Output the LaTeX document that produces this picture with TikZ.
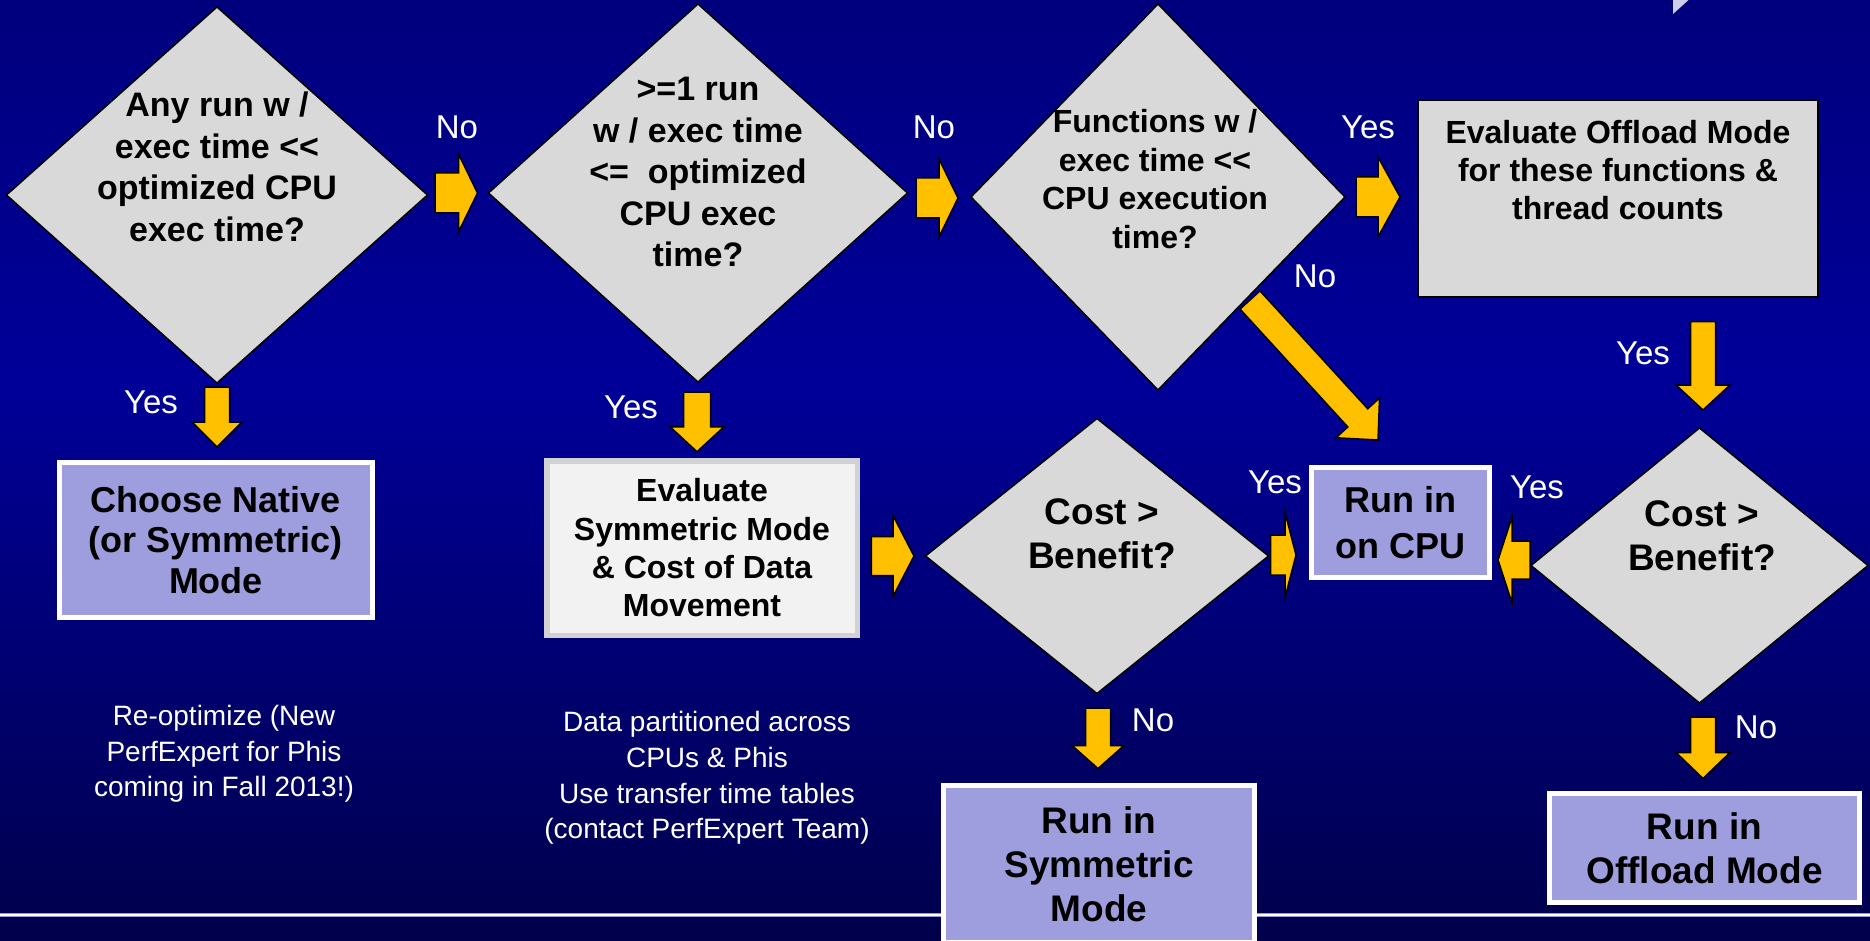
\documentclass[tikz,border=0pt]{standalone}
\usepackage{fontspec}
\newfontfamily\lsans{Liberation Sans}
\usetikzlibrary{shapes.geometric,calc}

\definecolor{bgtop}{RGB}{0,0,125}
\definecolor{bgmid}{RGB}{0,0,153}
\definecolor{bgbot}{RGB}{0,0,75}
\definecolor{qgray}{RGB}{217,217,217}
\definecolor{lav}{RGB}{158,158,222}
\definecolor{gold}{RGB}{255,192,0}
\definecolor{paper}{RGB}{242,242,242}
\definecolor{paperedge}{RGB}{210,210,210}
\definecolor{corner}{RGB}{205,205,235}
\definecolor{rulelav}{RGB}{150,150,220}

\tikzset{
  question/.style={diamond, draw=black, line width=1.5pt, fill=qgray,
    inner sep=0pt, outer sep=0pt},
  qtext/.style={align=center, inner sep=0pt,
    font=\lsans\bfseries\fontsize{34}{41.5}\selectfont},
  result/.style={rectangle, draw=white, line width=5pt, fill=lav,
    inner sep=0pt, outer sep=0pt, align=center,
    font=\lsans\bfseries\fontsize{37}{44}\selectfont},
  evalbox/.style={rectangle, draw=paperedge, line width=5.5pt, fill=paper,
    inner sep=0pt, outer sep=0pt, align=center,
    font=\lsans\bfseries\fontsize{32}{38.3}\selectfont},
  answer/.style={inner sep=0pt, text=white,
    font=\lsans\fontsize{33}{38}\selectfont},
  note/.style={inner sep=0pt, text=white, align=center,
    font=\lsans\fontsize{28}{35.7}\selectfont},
  blockarr/.style={fill=gold, draw=black, line width=1.5pt, line join=miter},
}

% block arrow: #1 tail, #2 tip, #3 half shaft width, #4 half head width, #5 head length
\newcommand\blockarrow[5]{%
  \coordinate (ba-neck) at ($(#2)!#5!(#1)$);
  \draw[blockarr]
    ($(#1)!#3!90:(#2)$) --
    ($(ba-neck)!#3!-90:(#1)$) --
    ($(ba-neck)!#4!-90:(#1)$) --
    (#2) --
    ($(ba-neck)!#4!90:(#1)$) --
    ($(ba-neck)!#3!90:(#1)$) --
    ($(#1)!#3!-90:(#2)$) -- cycle;
}

\begin{document}
\begin{tikzpicture}[x=1pt,y=-1pt]
\useasboundingbox (0,0) rectangle (1870,941);
\clip (0,0) rectangle (1870,941);

% background
\shade[top color=bgtop, bottom color=bgmid] (0,0) rectangle (1870,381);
\shade[top color=bgmid, bottom color=bgbot] (0,380) rectangle (1870,941);
\fill[corner] (1673,0) -- (1688.5,0) -- (1673,14) -- cycle;
\draw[rulelav, line width=3.5pt] (0,915) -- (1870,915);
\draw[white, line width=2pt] (0,915) -- (1870,915);

% decisions
\node[question, minimum width=421pt, minimum height=376pt] (d1) at (217,195) {};
\node[question, minimum width=419pt, minimum height=378pt] (d2) at (698,193) {};
\node[question, minimum width=374pt, minimum height=386pt] (d3) at (1158,197) {};
\node[question, minimum width=343pt, minimum height=275pt] (d4) at (1097,556) {};
\node[question, minimum width=337pt, minimum height=275pt] (d5) at (1699.5,565.5) {};

\node[qtext] (d1t) at (217,167) {Any run w /\\exec time <<\\optimized CPU\\exec time?};
\node[qtext] (d2t) at (698,172) {>=1 run\\w / exec time\\<=\ \ optimized\\CPU exec\\time?};
\node[qtext, font=\lsans\bfseries\fontsize{32}{38.7}\selectfont] (d3t) at (1155,179)
  {Functions w /\\exec time <<\\CPU execution\\time?};
\node[qtext, font=\lsans\bfseries\fontsize{37}{44}\selectfont] (d4t) at (1102,534)
  {Cost >\\Benefit?};
\node[qtext, font=\lsans\bfseries\fontsize{37}{44}\selectfont] (d5t) at (1702,535.5)
  {Cost >\\Benefit?};

% actions
\node[result, minimum width=313pt, minimum height=155pt,
  font=\lsans\bfseries\fontsize{36}{40.5}\selectfont] (choose) at (216,540)
  {Choose Native\\(or Symmetric)\\Mode};
\node[evalbox, minimum width=310.5pt, minimum height=174.5pt] (evalsym) at (702,548)
  {Evaluate\\Symmetric Mode\\\& Cost of Data\\Movement};
\node[rectangle, draw=black, line width=2pt, fill=qgray, inner sep=0pt, outer sep=0pt,
  minimum width=400pt, minimum height=197pt] (evaloff) at (1618,198.5) {};
\node[qtext, font=\lsans\bfseries\fontsize{32}{37.7}\selectfont] (evalofft) at (1618,170)
  {Evaluate Offload Mode\\for these functions \&\\thread counts};
\node[result, minimum width=178pt, minimum height=110pt,
  font=\lsans\bfseries\fontsize{36}{46}\selectfont] (cpu) at (1400.5,522.5)
  {Run in\\on CPU};
\node[result, minimum width=311pt, minimum height=157pt] (runsym) at (1099,864)
  {Run in\\Symmetric\\Mode};
\node[result, minimum width=310pt, minimum height=109pt] (runoff) at (1704.5,848)
  {Run in\\Offload Mode};

% notes
\node[note] (note1) at (224,754) {Re-optimize (New\\PerfExpert for Phis\\coming in Fall 2013!)};
\node[note] (note2) at (707,778) {Data partitioned across\\CPUs \& Phis\\Use transfer time tables\\(contact PerfExpert Team)};

% arrow end points
\coordinate (a1s) at ($(d1.east)+(7.5,-2)$);
\coordinate (a1e) at ($(a1s -| d2.west)+(-11,0)$);
\coordinate (a2s) at ($(d2.east)+(8.5,5)$);
\coordinate (a2e) at ($(a2s -| d3.west)+(-13,0)$);
\coordinate (a3s) at ($(d3.east)+(11,0)$);
\coordinate (a3e) at ($(a3s -| evaloff.west)+(-18,0)$);
\coordinate (a4s) at ($(d1.south)+(0,4)$);
\coordinate (a4e) at ($(a4s |- choose.north)+(0,-15.5)$);
\coordinate (a5s) at ($(d2.south)+(-1,10)$);
\coordinate (a5e) at ($(a5s |- evalsym.north)+(0,-9)$);
\coordinate (a6s) at ($(evaloff.south -| d5.north)+(3.5,24.5)$);
\coordinate (a6e) at ($(d5.north)+(3.5,-18)$);
\coordinate (a7s) at ($(evalsym.east |- d4.west)+(14,0)$);
\coordinate (a7e) at ($(d4.west)+(-11.5,0)$);
\coordinate (a8s) at ($(d4.east)+(2,-1)$);
\coordinate (a8e) at ($(a8s -| cpu.west)+(-15.5,0)$);
\coordinate (a9s) at ($(d5.west)+(-1,-5.5)$);
\coordinate (a9e) at ($(a9s -| cpu.east)+(8.5,0)$);
\coordinate (a10s) at ($(d4.south)+(1,14.5)$);
\coordinate (a10e) at ($(a10s |- runsym.north)+(0,-17)$);
\coordinate (a11s) at ($(d5.south)+(3.5,14)$);
\coordinate (a11e) at ($(a11s |- runoff.north)+(0,-15)$);
\coordinate (a12s) at ($(d3.south east)+(-1.5,6.5)$);
\coordinate (a12e) at ($(cpu.north)+(-22.5,-27.5)$);

% connectors
\blockarrow{a1s}{a1e}{20pt}{39pt}{19pt}
\blockarrow{a2s}{a2e}{20pt}{39pt}{19pt}
\blockarrow{a3s}{a3e}{20pt}{40pt}{22pt}
\blockarrow{a4s}{a4e}{12.5pt}{25pt}{25pt}
\blockarrow{a5s}{a5e}{13.5pt}{27pt}{25pt}
\blockarrow{a6s}{a6e}{12.5pt}{27pt}{25pt}
\blockarrow{a7s}{a7e}{19.5pt}{40.5pt}{21pt}
\blockarrow{a8s}{a8e}{20pt}{42.5pt}{11pt}
\blockarrow{a9s}{a9e}{19pt}{43pt}{14pt}
\blockarrow{a10s}{a10e}{12.5pt}{26pt}{23pt}
\blockarrow{a11s}{a11e}{12.5pt}{27pt}{26pt}
\blockarrow{a12s}{a12e}{13.5pt}{29.5pt}{30pt}

% answers
\node[answer] (no1) at (457,127) {No};
\node[answer] (no2) at (934,127) {No};
\node[answer] (yes1) at (1368,127) {Yes};
\node[answer] (no3) at (1315,276) {No};
\node[answer] (yes2) at (151,402) {Yes};
\node[answer] (yes3) at (631,407) {Yes};
\node[answer] (yes4) at (1643,353) {Yes};
\node[answer] (yes5) at (1275,482) {Yes};
\node[answer] (yes6) at (1537,487) {Yes};
\node[answer] (no4) at (1153,720) {No};
\node[answer] (no5) at (1756,727) {No};
\end{tikzpicture}
\end{document}
